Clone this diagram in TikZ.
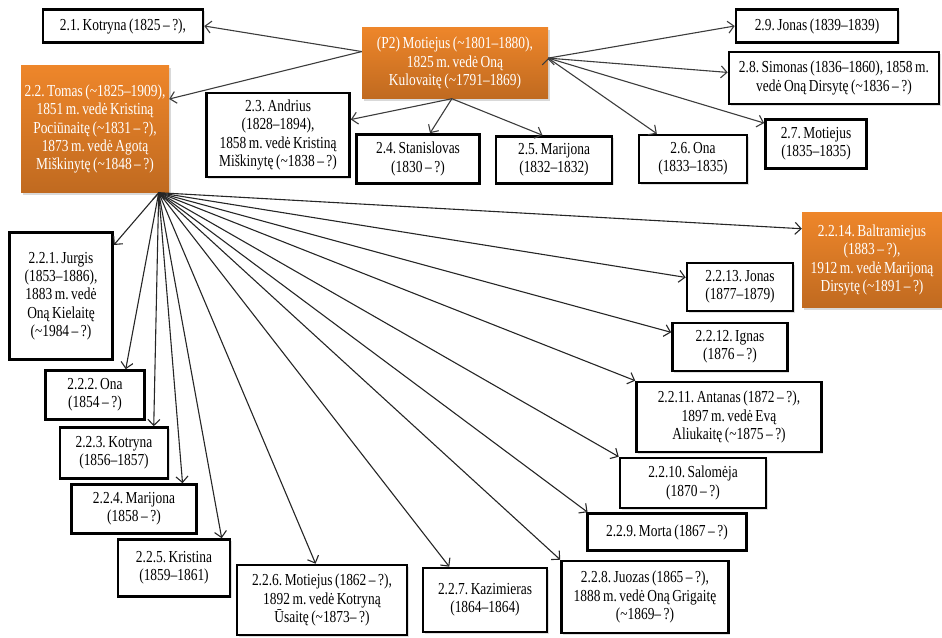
\documentclass[tikz,border=0pt]{standalone}
\usepackage{fontspec}
\setmainfont{Liberation Serif}[FakeStretch=0.8,WordSpace=0.75]
\usetikzlibrary{arrows.meta,shadows}
\definecolor{orangetop}{RGB}{238,134,42}
\definecolor{orangebot}{RGB}{192,106,32}
\definecolor{linegray}{RGB}{60,60,60}
\newcommand{\apx}{\textasciitilde}

\begin{document}
\begin{tikzpicture}[x=1pt,y=-1pt,
  every node/.style={font=\fontsize{16.8}{18.3}\selectfont\frenchspacing,align=center,inner sep=0pt},
  person/.style={draw=black,line width=2.6pt,fill=white,
    drop shadow={shadow xshift=1.5pt,shadow yshift=-1.5pt,opacity=0.25}},
  heir/.style={top color=orangetop,bottom color=orangebot,text=white,
    drop shadow={shadow xshift=1.5pt,shadow yshift=-2pt,opacity=0.3}},
  >={Straight Barb[length=6pt,width=12pt]}]
\useasboundingbox (0,0) rectangle (942,637);

% parents
\node[heir,minimum width=186,minimum height=71] (p2) at (455,63)
  {(P2) Motiejus (\apx1801--1880),\\1825 m. vedė Oną\\Kulovaitę (\apx1791--1869)};

% children of P2
\node[person,minimum width=160,minimum height=33] (c21) at (123,26) {2.1. Kotryna (1825 -- ?),};
\node[heir,minimum width=148,minimum height=127] (c22) at (95,129)
  {2.2. Tomas (\apx1825--1909),\\1851 m. vedė Kristiną\\Pociūnaitę (\apx1831 -- ?),\\1873 m. vedė Agotą\\Miškinytę (\apx1848 -- ?)};
\node[person,minimum width=143,minimum height=84] (c23) at (278,135)
  {2.3. Andrius\\(1828--1894),\\1858 m. vedė Kristiną\\Miškinytę (\apx1838 -- ?)};
\node[person,minimum width=123,minimum height=49] (c24) at (418,159) {2.4. Stanislovas\\(1830 -- ?)};
\node[person,minimum width=116,minimum height=47] (c25) at (554,160) {2.5. Marijona\\(1832--1832)};
\node[person,minimum width=108,minimum height=48] (c26) at (693,159) {2.6. Ona\\(1833--1835)};
\node[person,minimum width=101,minimum height=49] (c27) at (816,144) {2.7. Motiejus\\(1835--1835)};
\node[person,minimum width=210,minimum height=52] (c28) at (834,78)
  {2.8. Simonas (1836--1860), 1858 m.\\vedė Oną Dirsytę (\apx1836 -- ?)};
\node[person,minimum width=162,minimum height=33] (c29) at (817,26) {2.9. Jonas (1839--1839)};

% children of 2.2
\node[person,minimum width=103,minimum height=127] (c221) at (61,296)
  {2.2.1. Jurgis\\(1853--1886),\\1883 m. vedė\\Oną Kielaitę\\(\apx1984 -- ?)};
\node[person,minimum width=99,minimum height=49] (c222) at (95,395) {2.2.2. Ona\\(1854 -- ?)};
\node[person,minimum width=108,minimum height=51] (c223) at (114,453) {2.2.3. Kotryna\\(1856--1857)};
\node[person,minimum width=125,minimum height=49] (c224) at (134,509) {2.2.4. Marijona\\(1858 -- ?)};
\node[person,minimum width=112,minimum height=57] (c225) at (174,568) {2.2.5. Kristina\\(1859--1861)};
\node[person,minimum width=170,minimum height=70] (c226) at (322,600)
  {2.2.6. Motiejus (1862 -- ?),\\1892 m. vedė Kotryną\\Ūsaitę (\apx1873-- ?)};
\node[person,minimum width=124,minimum height=64] (c227) at (485,600) {2.2.7. Kazimieras\\(1864--1864)};
\node[person,minimum width=167,minimum height=72] (c228) at (645,597)
  {2.2.8. Juozas (1865 -- ?),\\1888 m. vedė Oną Grigaitę\\(\apx1869-- ?)};
\node[person,minimum width=159,minimum height=37] (c229) at (667,532) {2.2.9. Morta (1867 -- ?)};
\node[person,minimum width=146,minimum height=50] (c2210) at (693,483) {2.2.10. Salomėja\\(1870 -- ?)};
\node[person,minimum width=185,minimum height=70] (c2211) at (729,417)
  {2.2.11. Antanas (1872 -- ?),\\1897 m. vedė Evą\\Aliukaitę (\apx1875 -- ?)};
\node[person,minimum width=115,minimum height=48] (c2212) at (730,347) {2.2.12. Ignas\\(1876 -- ?)};
\node[person,minimum width=106,minimum height=48] (c2213) at (740,287) {2.2.13. Jonas\\(1877--1879)};
\node[heir,minimum width=140,minimum height=95] (c2214) at (872,260)
  {2.2.14. Baltramiejus\\(1883 -- ?),\\1912 m. vedė Marijoną\\Dirsytę (\apx1891 -- ?)};

\path[->,draw=linegray,line width=1.1pt]
  (p2.173) edge (c21.east)
  (p2.173) edge (c22.22)
  (p2.265) edge (c23.12)
  (p2.265) edge (c24.65)
  (p2.265) edge (c25.115)
  (p2.3) edge (c26.145)
  (p2.3) edge (c27.158)
  (p2.3) edge (c28.177)
  (p2.3) edge (c29.west);

\path[->,draw=black!85,line width=1.1pt]
  (c22.-45) edge (c221.44)
  (c22.-45) edge (c222.40)
  (c22.-45) edge (c223.34)
  (c22.-45) edge (c224.28)
  (c22.-45) edge (c225.32)
  (c22.-45) edge (c226.100)
  (c22.-45) edge (c227.137)
  (c22.-45) edge (c228.north west)
  (c22.-45) edge (c229.166)
  (c22.-45) edge (c2210.north west)
  (c22.-45) edge (c2211.north west)
  (c22.-45) edge (c2212.166)
  (c22.-45) edge (c2213.170)
  (c22.-45) edge (c2214.156);
\end{tikzpicture}
\end{document}
